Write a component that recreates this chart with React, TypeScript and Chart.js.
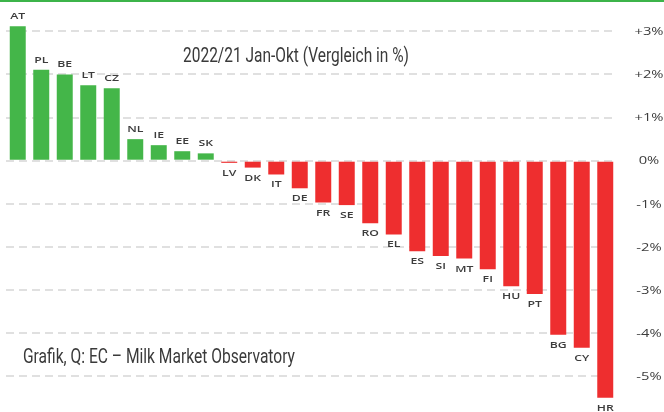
import React, { useEffect, useRef } from "react";
import { Chart, registerables } from "chart.js";

Chart.register(...registerables);

const countries = ["AT", "PL", "BE", "LT", "CZ", "NL", "IE", "EE", "SK", "LV", "DK", "IT", "DE", "FR", "SE", "RO", "EL", "ES", "SI", "MT", "FI", "HU", "PT", "BG", "CY", "HR"];
const changes = [3.12, 2.11, 2.0, 1.75, 1.68, 0.5, 0.36, 0.22, 0.17, -0.05, -0.16, -0.32, -0.64, -0.97, -1.03, -1.45, -1.71, -2.1, -2.21, -2.27, -2.52, -2.91, -3.09, -4.04, -4.34, -5.5];
const yTicks = [3, 2, 1, 0, -1, -2, -3, -4, -5];
const tickLabels = ["+3%", "+2%", "+1%", "0%", "-1%", "-2%", "-3%", "-4%", "-5%"];
const titleText = "2022/21 Jan-Okt (Vergleich in %)";
const sourceText = "Grafik, Q: EC – Milk Market Observatory";

const GREEN = "#44b649";
const RED = "#ee2e2f";
const TEXT = "#3c3c3c";

function drawStretched(ctx: CanvasRenderingContext2D, text: string, x: number, y: number, font: string, sx: number, align: "left" | "center" | "right") {
  ctx.save();
  ctx.font = font;
  ctx.textAlign = "left";
  ctx.textBaseline = "alphabetic";
  const w = ctx.measureText(text).width;
  ctx.translate(x, y);
  ctx.scale(sx, 1);
  const dx = align === "center" ? -w / 2 : align === "right" ? -w : 0;
  ctx.fillText(text, dx, 0);
  ctx.restore();
}

function fitScale(ctx: CanvasRenderingContext2D, text: string, font: string, target: number) {
  ctx.save();
  ctx.font = font;
  const w = ctx.measureText(text).width;
  ctx.restore();
  return target / w;
}

const textPlugin = {
  id: "textPlugin",
  beforeDraw(chart: any) {
    const ctx = chart.ctx as CanvasRenderingContext2D;
    ctx.save();
    ctx.fillStyle = "#ffffff";
    ctx.fillRect(0, 0, chart.width, chart.height);
    ctx.restore();
  },
  afterDraw(chart: any) {
    const ctx = chart.ctx as CanvasRenderingContext2D;
    ctx.save();
    // top green rule
    ctx.fillStyle = "#3cb44a";
    ctx.fillRect(0, 0, chart.width, 2);

    // bar labels
    ctx.fillStyle = TEXT;
    const labFont = "600 8.5px 'Open Sans'";
    const labSx = fitScale(ctx, "AT", labFont, 15);
    const meta = chart.getDatasetMeta(0);
    meta.data.forEach((bar: any, i: number) => {
      const v = changes[i];
      const y = v >= 0 ? bar.y - 7 : bar.y + 13;
      drawStretched(ctx, countries[i], bar.x, y, labFont, labSx, "center");
    });

    // y tick labels
    const y = chart.scales.y;
    const tickFont = "10.2px 'Open Sans'";
    const tickSx = fitScale(ctx, "+3%", tickFont, 29);
    yTicks.forEach((t, i) => {
      const py = y.getPixelForValue(t);
      drawStretched(ctx, tickLabels[i], 649, py + 3.7, tickFont, tickSx, "center");
    });

    // titles
    ctx.fillStyle = "#3a3a3a";
    const tFont = "21px Roboto";
    drawStretched(ctx, titleText, 183, 61.7, tFont, fitScale(ctx, titleText, tFont, 226), "left");
    drawStretched(ctx, sourceText, 23, 363.3, tFont, fitScale(ctx, sourceText, tFont, 272), "left");
    ctx.restore();
  },
};

export default function App() {
  const ref = useRef<HTMLCanvasElement | null>(null);
  useEffect(() => {
    if (!ref.current) return;
    const chart = new Chart(ref.current, {
      type: "bar",
      data: {
        labels: countries,
        datasets: [
          {
            data: changes,
            backgroundColor: changes.map((v) => (v >= 0 ? GREEN : RED)),
            borderWidth: 0,
            barPercentage: 0.68,
            categoryPercentage: 1,
          },
        ],
      },
      options: {
        animation: false,
        responsive: false,
        maintainAspectRatio: false,
        layout: { padding: { left: 6, top: 5, right: 0, bottom: 0 } },
        plugins: { legend: { display: false }, tooltip: { enabled: false }, title: { display: false } },
        scales: {
          x: { display: false },
          y: {
            position: "right",
            min: -5.83,
            max: 3.612,
            afterBuildTicks: (axis: any) => {
              axis.ticks = yTicks.map((v) => ({ value: v }));
            },
            afterFit: (axis: any) => {
              axis.width = 47;
            },
            ticks: { display: false },
            grid: { color: "#e0e0e0", lineWidth: 2, drawTicks: false },
            border: { display: false, dash: [8, 5] },
          },
        },
      },
      plugins: [textPlugin],
    });
    return () => chart.destroy();
  }, []);
  return (
    <div style={{ position: "absolute", left: 0, top: 0, width: 664, height: 412 }}>
      <canvas ref={ref} width={664} height={412} />
    </div>
  );
}
